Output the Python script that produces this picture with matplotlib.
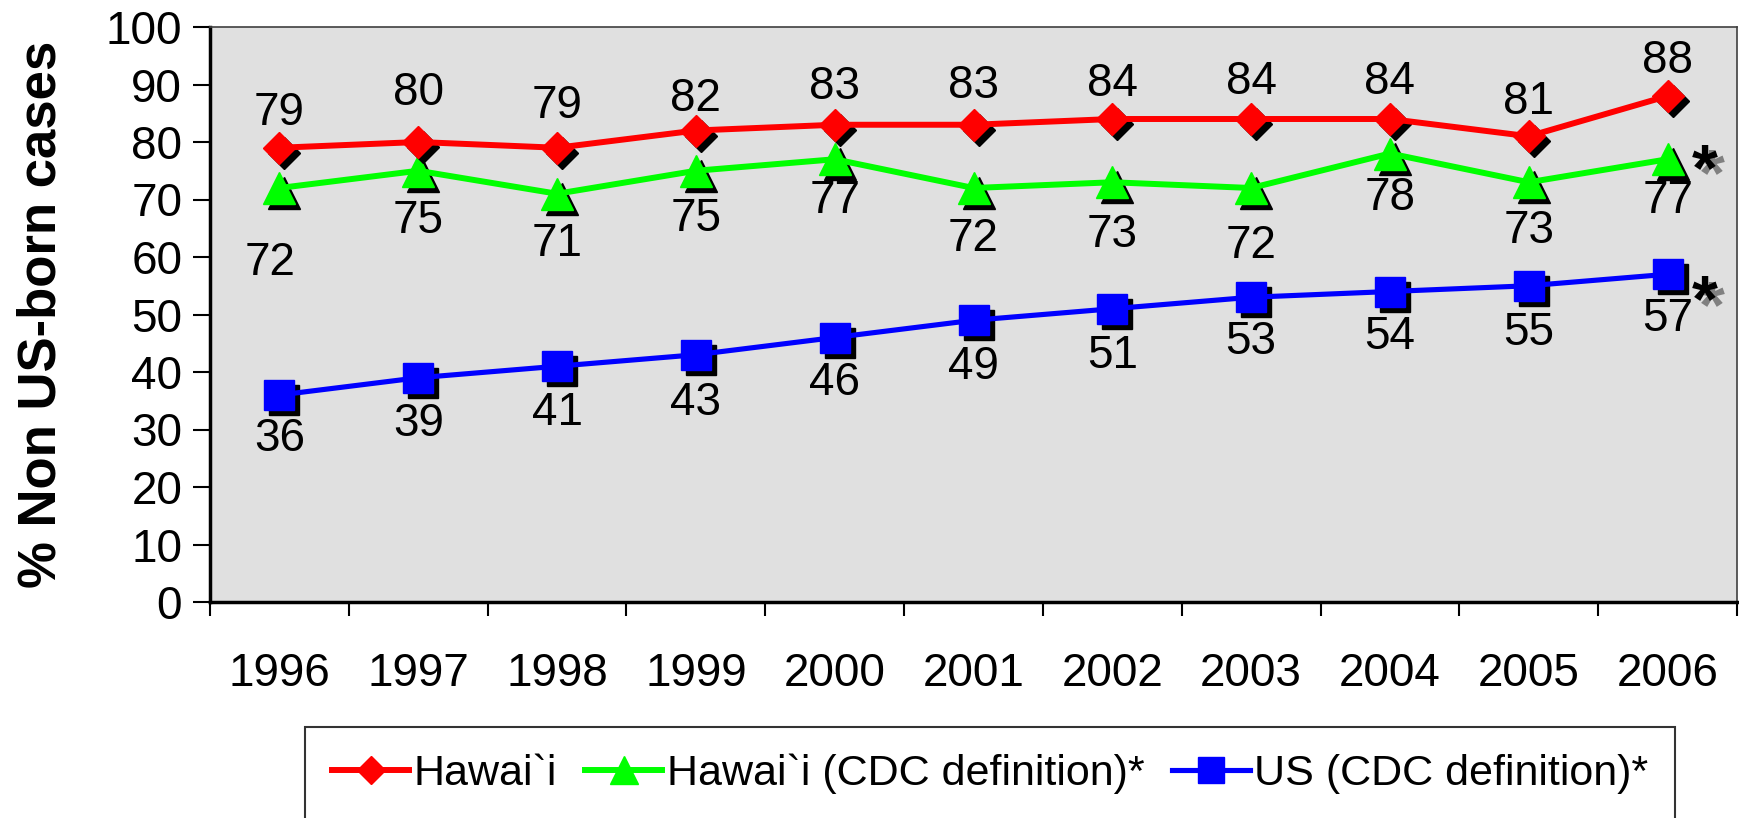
import numpy as np
import matplotlib.pyplot as plt
from matplotlib import transforms

years = ['1996', '1997', '1998', '1999', '2000', '2001',
         '2002', '2003', '2004', '2005', '2006']
hawaii = [79, 80, 79, 82, 83, 83, 84, 84, 84, 81, 88]
hawaii_cdc = [72, 75, 71, 75, 77, 72, 73, 72, 78, 73, 77]
us_cdc = [36, 39, 41, 43, 46, 49, 51, 53, 54, 55, 57]

# vertical offsets (points) of the value labels, as placed in the original
red_lab_dy = [25, 35, 30, 23, 27, 28, 25, 27, 27, 25, 25]
green_lab_dy = [-54, -36, -36, -35, -30, -37, -38, -42, -32, -35, -30]
blue_lab_dy = [-32, -33, -34, -35, -33, -34, -34, -32, -33, -34, -32]

plt.rcParams['font.family'] = ['Liberation Sans', 'DejaVu Sans']

fig = plt.figure(figsize=(17.4, 8.18), dpi=100)
ax = fig.add_axes([0.1207, 1 - 602 / 818, 0.8776, 575 / 818])
ax.set_facecolor('#e0e0e0')

x = np.arange(len(years))
shadow = ax.transData + transforms.ScaledTranslation(3.6 / 72, -3.6 / 72, fig.dpi_scale_trans)

# (values, label, colour, marker, size, line width, label offsets)
series = [
    (us_cdc, 'US (CDC definition)*', '#0000ff', 's', 21.5, 3.7, blue_lab_dy),
    (hawaii_cdc, 'Hawai`i (CDC definition)*', '#00ff00', '^', 23, 4.3, green_lab_dy),
    (hawaii, 'Hawai`i', '#ff0000', 'D', 16.5, 4.3, red_lab_dy),
]

handles = {}
for i, (vals, name, col, mk, ms, lw, dys) in enumerate(series):
    z = 3 + 2 * i
    ax.plot(x, vals, ls='none', marker=mk, ms=ms, color='black',
            transform=shadow, zorder=z)
    ln, = ax.plot(x, vals, color=col, lw=lw, marker=mk, ms=ms, mec=col,
                  zorder=z + 1, label=name)
    handles[name] = ln
    for xi, v, dy in zip(x, vals, dys):
        ox = -7 if (mk == '^' and xi == 0) else 0
        ax.annotate(str(v), (xi, v), xytext=(ox, dy), textcoords='offset points',
                    ha='center', va='center', fontsize=33, zorder=10)

# asterisks next to the last CDC-definition points
for v, oy in ((hawaii_cdc[-1], -22), (us_cdc[-1], -34)):
    ax.annotate('*', (x[-1], v), xytext=(32, oy - 4), textcoords='offset points',
                ha='center', va='baseline', fontsize=48, fontweight='bold',
                color='#808080', zorder=10)
    ax.annotate('*', (x[-1], v), xytext=(27, oy), textcoords='offset points',
                ha='center', va='baseline', fontsize=48, fontweight='bold',
                color='black', zorder=11)

ax.set_xlim(-0.5, len(years) - 0.5)
ax.set_ylim(0, 100)
ax.set_yticks(np.arange(0, 101, 10))
ax.set_xticks(x)
ax.set_xticklabels(years)
ax.set_xticks(np.arange(-0.5, len(years)), minor=True)
ax.tick_params(axis='x', which='major', length=0, pad=36, labelsize=33)
ax.tick_params(axis='x', which='minor', length=10, width=1.5, direction='out')
ax.tick_params(axis='y', length=12, width=1.5, pad=8, labelsize=33)

for s in ('left', 'bottom'):
    ax.spines[s].set_linewidth(2.5)
for s in ('top', 'right'):
    ax.spines[s].set_linewidth(1.2)
    ax.spines[s].set_color('#404040')

ax.set_ylabel('% Non US-born cases', fontsize=38, fontweight='bold')
ax.yaxis.set_label_coords(-0.094, 0.5)

order = ['Hawai`i', 'Hawai`i (CDC definition)*', 'US (CDC definition)*']
leg = fig.legend([handles[k] for k in order], order, loc='upper center',
                 bbox_to_anchor=(0.569, 0.111), ncol=3, fontsize=31,
                 frameon=True, fancybox=False, edgecolor='black',
                 handlelength=1.8, handletextpad=0.1, columnspacing=0.65,
                 borderpad=0.62, borderaxespad=0, markerscale=0.85)
leg.get_frame().set_linewidth(1.5)

fig.savefig('out.png', dpi=100)
